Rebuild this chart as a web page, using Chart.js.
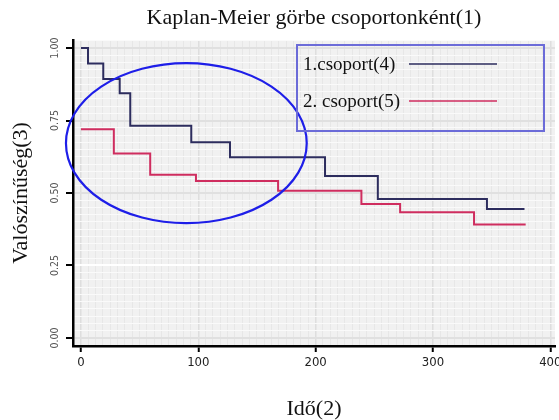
<!DOCTYPE html>
<html lang="hu">
<head>
<meta charset="UTF-8">
<title>Kaplan-Meier görbe csoportonként</title>
<script src="https://cdn.jsdelivr.net/npm/chart.js"></script>
<style>
  html, body { margin: 0; padding: 0; background: #fff; }
</style>
</head>
<body>
<canvas id="kmChart" width="559" height="420"></canvas>
<script>
// Kaplan-Meier step values (time, survival)
const group1Times = [0, 6, 19, 33, 42, 94, 127, 208, 253, 346, 378];
const group1Surv  = [1.0, 0.947, 0.893, 0.844, 0.732, 0.675, 0.623, 0.559, 0.479, 0.445, 0.445];
const group2Times = [0, 28, 59, 98, 168, 239, 272, 335, 379];
const group2Surv  = [0.72, 0.636, 0.563, 0.541, 0.508, 0.462, 0.434, 0.391, 0.391];

const seriesLabels = ['1.csoport(4)', '2. csoport(5)'];
const xMajorTicks = [0, 100, 200, 300, 400];
const yMajorTicks = [0, 0.25, 0.5, 0.75, 1];

// hand-drawn ellipse (centre and radii, in data units)
const ellipseCenter = [89.8, 0.672];
const ellipseRadii = [102.6, 0.276];

const serif = "'Liberation Serif', 'Times New Roman', serif";
const tickFont = "'DejaVu Sans Condensed', 'DejaVu Sans', sans-serif";

const isMajorX = v => xMajorTicks.some(t => Math.abs(t - v) < 1e-6);
const isMajorY = v => yMajorTicks.some(t => Math.abs(t - v) < 1e-6);

function toPoints(xs, ys) {
  return xs.map((x, i) => ({ x: x, y: ys[i] }));
}

const plotBackground = {
  id: 'plotBackground',
  beforeDraw(chart) {
    const { ctx, chartArea: a } = chart;
    ctx.save();
    ctx.fillStyle = '#f1f1f1';
    ctx.fillRect(a.left, a.top, a.right - a.left, a.bottom - a.top);
    ctx.restore();
  }
};

const ellipseMark = {
  id: 'ellipseMark',
  afterDraw(chart) {
    const { ctx } = chart;
    const xs = chart.scales.x, ys = chart.scales.y;
    const cx = xs.getPixelForValue(ellipseCenter[0]);
    const cy = ys.getPixelForValue(ellipseCenter[1]);
    const rx = xs.getPixelForValue(ellipseCenter[0] + ellipseRadii[0]) - cx;
    const ry = cy - ys.getPixelForValue(ellipseCenter[1] + ellipseRadii[1]);
    ctx.save();
    ctx.strokeStyle = '#1e1ee8';
    ctx.lineWidth = 2.2;
    ctx.beginPath();
    ctx.ellipse(cx, cy, rx, ry, 0, 0, Math.PI * 2);
    ctx.stroke();
    ctx.restore();
  }
};

const boxLegend = {
  id: 'boxLegend',
  afterDraw(chart) {
    const { ctx } = chart;
    ctx.save();
    ctx.strokeStyle = '#6b6bd8';
    ctx.lineWidth = 2;
    ctx.strokeRect(297, 45, 247, 86);
    ctx.font = '19px ' + serif;
    ctx.textBaseline = 'middle';
    ctx.fillStyle = '#111';
    const rows = [65, 102];
    chart.data.datasets.forEach((ds, i) => {
      ctx.fillText(ds.label, 303, rows[i]);
      ctx.strokeStyle = ds.borderColor;
      ctx.lineWidth = 1.5;
      ctx.beginPath();
      ctx.moveTo(409, rows[i] - 1);
      ctx.lineTo(497, rows[i] - 1);
      ctx.stroke();
    });
    ctx.restore();
  }
};

new Chart(document.getElementById('kmChart'), {
  type: 'line',
  data: {
    datasets: [
      {
        label: seriesLabels[0],
        data: toPoints(group1Times, group1Surv),
        stepped: true,
        borderColor: '#2d2d5e',
        borderWidth: 2,
        pointRadius: 0,
        fill: false
      },
      {
        label: seriesLabels[1],
        data: toPoints(group2Times, group2Surv),
        stepped: true,
        borderColor: '#cf2d5f',
        borderWidth: 2,
        pointRadius: 0,
        fill: false
      }
    ]
  },
  options: {
    responsive: false,
    animation: false,
    layout: { padding: { left: 0, right: 4, top: 0, bottom: 0 } },
    plugins: {
      legend: { display: false },
      tooltip: { enabled: false },
      title: {
        display: true,
        text: 'Kaplan-Meier görbe csoportonként(1)',
        fullSize: false,
        color: '#111',
        font: { family: serif, size: 22, weight: 'normal' },
        padding: { top: 5, bottom: 8.6 }
      }
    },
    scales: {
      x: {
        type: 'linear',
        min: -6.8,
        max: 404,
        afterFit(s) { s.height = 74; s.paddingLeft = 0; s.paddingRight = 0; },
        ticks: {
          stepSize: 6.25,
          includeBounds: false,
          autoSkip: false,
          minRotation: 0,
          maxRotation: 0,
          padding: 3,
          color: '#222',
          font: { family: tickFont, size: 13 },
          callback: v => isMajorX(v) ? String(Math.round(v)) : ''
        },
        grid: {
          color: c => isMajorX(c.tick.value) ? '#dedede' : '#e7e7e7',
          lineWidth: c => isMajorX(c.tick.value) ? 1.5 : 1,
          tickLength: 6,
          tickWidth: 2,
          tickColor: c => isMajorX(c.tick.value) ? '#000' : 'rgba(0,0,0,0)'
        },
        border: { display: true, color: '#000', width: 2.5 },
        title: {
          display: true,
          text: 'Idő(2)',
          color: '#111',
          font: { family: serif, size: 22, lineHeight: 1 },
          padding: { top: 0, bottom: 0 }
        }
      },
      y: {
        type: 'linear',
        min: -0.028,
        max: 1.028,
        afterFit(s) { s.width = 73; s.paddingTop = 0; s.paddingBottom = 0; },
        ticks: {
          stepSize: 0.025,
          includeBounds: false,
          autoSkip: false,
          minRotation: 90,
          maxRotation: 90,
          crossAlign: 'center',
          padding: 0,
          color: '#555',
          font: { family: tickFont, size: 10.5 },
          callback: v => isMajorY(v) ? v.toFixed(2) : ''
        },
        grid: {
          color: c => {
            const v = c.tick.value;
            if (Math.abs(v - 0.25) < 1e-6) return '#ffffff';
            return isMajorY(v) ? '#e0e0e0' : '#fafafa';
          },
          lineWidth: c => isMajorY(c.tick.value) ? 2 : 1,
          tickLength: 7,
          tickWidth: 2,
          tickColor: c => isMajorY(c.tick.value) ? '#000' : 'rgba(0,0,0,0)'
        },
        border: { display: true, color: '#000', width: 2.5 },
        title: {
          display: true,
          text: 'Valószínűség(3)',
          color: '#111',
          font: { family: serif, size: 22 },
          padding: { top: 8, bottom: 0 }
        }
      }
    }
  },
  plugins: [plotBackground, ellipseMark, boxLegend]
});
</script>
</body>
</html>
